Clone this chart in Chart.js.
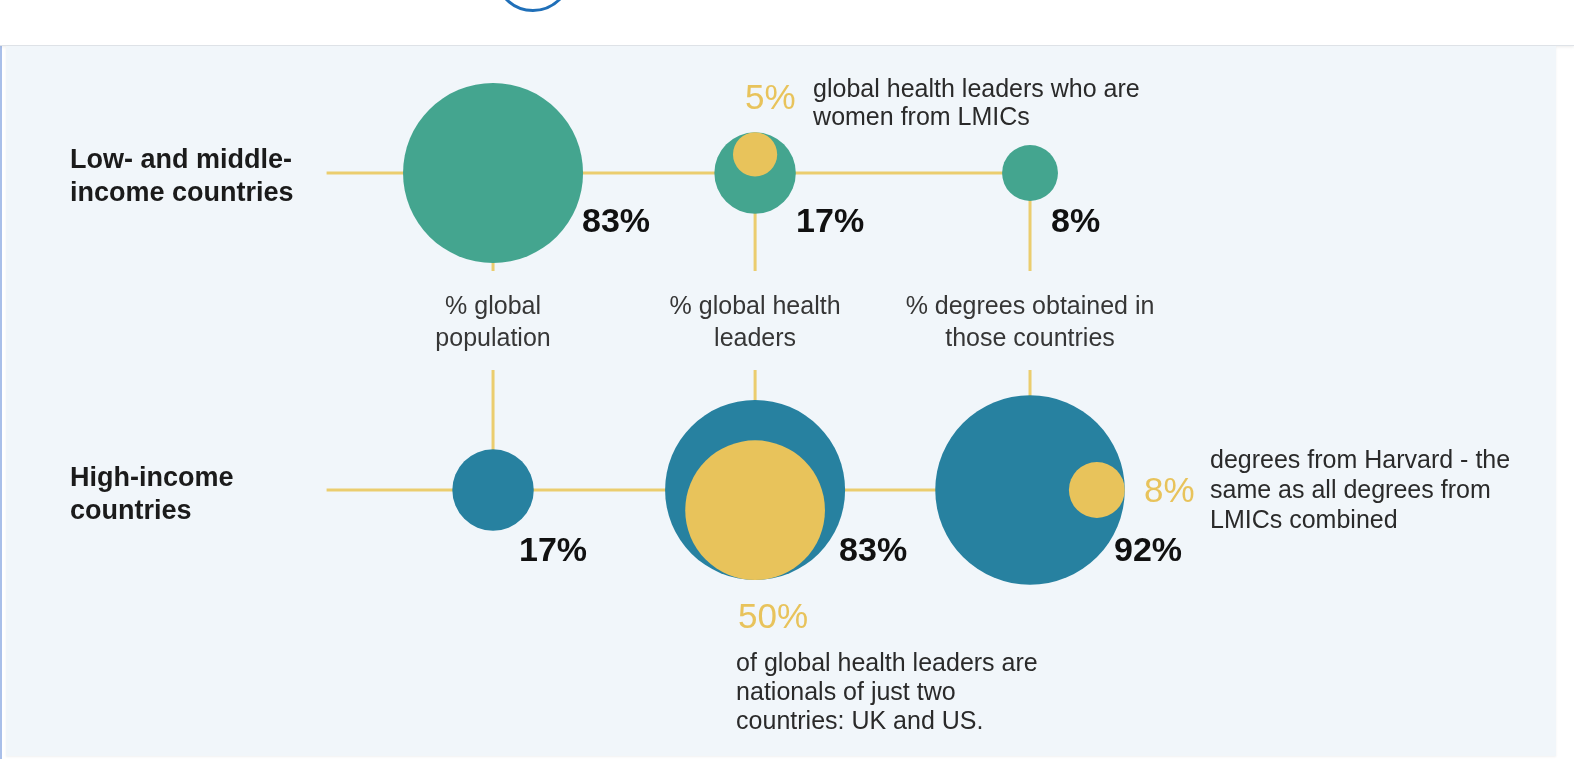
<!DOCTYPE html>
<html>
<head>
<meta charset="utf-8">
<script src="https://cdn.jsdelivr.net/npm/chart.js@4"></script>
<style>
html, body { margin:0; padding:0; background:#fff; width:1574px; height:759px; overflow:hidden; }
#frame { position:absolute; left:0; top:0; width:1572px; height:758px; border-left:2px solid #a9bfe9; border-top:1px solid #e4daf4; }
#header { position:absolute; left:0; top:0; width:1574px; height:45px; background:#fff; border-bottom:1px solid #dfe3e8; box-shadow:0 1px 3px rgba(0,0,0,0.08); overflow:hidden; }
#logo { position:absolute; left:494px; top:-66px; width:72px; height:72px; border:3.5px solid #1f6fb8; border-radius:50%; }
#panel { position:absolute; left:6px; top:46px; width:1550px; height:710px; background:#f1f6fa; box-shadow:0 1px 2px rgba(0,0,0,0.06); }
</style>
</head>
<body>
<div id="frame"></div>
<div id="header"><div id="logo"></div></div>
<div id="panel"><canvas id="chart" width="1550" height="710"></canvas></div>
<script>
// columns (measures) and rows (country groups)
var columns = [["% global", "population"], ["% global health", "leaders"], ["% degrees obtained in", "those countries"]];
var rows = [["Low- and middle-", "income countries"], ["High-income", "countries"]];
var lmicValues = [83, 17, 8];
var hicValues = [17, 83, 92];

// highlighted subsets drawn inside a parent bubble
var highlightValues = [5, 50, 8];
var highlightCol = [1, 1, 2];
var highlightRow = [0, 1, 1];
var highlightNotes = [
  ["global health leaders who are", "women from LMICs"],
  ["of global health leaders are", "nationals of just two", "countries: UK and US."],
  ["degrees from Harvard - the", "same as all degrees from", "LMICs combined"]
];

var teal = "#44a58f", blue = "#2781a0", yellow = "#e8c35b", lineColor = "#ebcd6e";
var font = "'Liberation Sans', Arial, sans-serif";
var radiusPerSqrt = 9.88; // bubble area proportional to the percentage
function rad(v) { return radiusPerSqrt * Math.sqrt(v); }

// layout
var columnPos = [0, 0.976, 2];
var highlightSide = [[0, -1], [0, 1], [1, 0]];
var valueLabelOffset = [[[89, 50], [41, 50], [21, 50]], [[26, 62], [84, 62], [84, 62]]];
var notePctOffset = [[-10, -76], [-17, 126], [114, 0]];
var noteTextOffset = [[58, -85, 28], [-19, 172, 29], [180, -31, 30]];
var lineStartX = -0.62, labelRowY = 0.464;

function bubbles(values, row) {
  return values.map(function(v, i) { return { x: columnPos[i], y: row, r: rad(v) }; });
}

var placeHighlights = {
  id: "placeHighlights",
  afterDatasetsUpdate: function(chart) {
    var meta = chart.getDatasetMeta(0);
    meta.data.forEach(function(el, i) {
      var parent = chart.getDatasetMeta(1 + highlightRow[i]).data[highlightCol[i]];
      var parentVal = highlightRow[i] === 0 ? lmicValues[highlightCol[i]] : hicValues[highlightCol[i]];
      var d = rad(parentVal) - rad(highlightValues[i]);
      el.x = parent.x + highlightSide[i][0] * d;
      el.y = parent.y + highlightSide[i][1] * d;
    });
  }
};

var connectors = {
  id: "connectors",
  beforeDatasetsDraw: function(chart) {
    var ctx = chart.ctx, xs = chart.scales.x, ys = chart.scales.y;
    ctx.save();
    ctx.strokeStyle = lineColor;
    ctx.lineWidth = 3;
    ctx.beginPath();
    rows.forEach(function(r, ri) {
      var y = ys.getPixelForValue(ri);
      ctx.moveTo(xs.getPixelForValue(lineStartX), y);
      ctx.lineTo(xs.getPixelForValue(columnPos[columns.length - 1]), y);
    });
    var mid = ys.getPixelForValue(labelRowY);
    columns.forEach(function(c, ci) {
      var x = xs.getPixelForValue(columnPos[ci]);
      ctx.moveTo(x, ys.getPixelForValue(0));
      ctx.lineTo(x, mid - 49);
      ctx.moveTo(x, mid + 50);
      ctx.lineTo(x, ys.getPixelForValue(1));
    });
    ctx.stroke();
    ctx.restore();
  }
};

var texts = {
  id: "texts",
  afterDatasetsDraw: function(chart) {
    var ctx = chart.ctx, xs = chart.scales.x, ys = chart.scales.y;
    ctx.save();
    ctx.textBaseline = "middle";

    // row titles
    ctx.fillStyle = "#1b1b1b";
    ctx.font = "bold 27px " + font;
    ctx.textAlign = "left";
    rows.forEach(function(lines, ri) {
      var y = ys.getPixelForValue(ri);
      ctx.fillText(lines[0], 64, y - 12 + ri);
      ctx.fillText(lines[1], 64, y + 21 + ri);
    });

    // column titles
    ctx.fillStyle = "#363636";
    ctx.font = "25px " + font;
    ctx.textAlign = "center";
    var mid = ys.getPixelForValue(labelRowY);
    columns.forEach(function(lines, ci) {
      var x = xs.getPixelForValue(columnPos[ci]);
      ctx.fillText(lines[0], x, mid - 13);
      ctx.fillText(lines[1], x, mid + 19);
    });

    // values
    ctx.fillStyle = "#111";
    ctx.font = "bold 34px " + font;
    ctx.textAlign = "left";
    [lmicValues, hicValues].forEach(function(vals, ri) {
      vals.forEach(function(v, ci) {
        var o = valueLabelOffset[ri][ci];
        ctx.fillText(v + "%", xs.getPixelForValue(columnPos[ci]) + o[0], ys.getPixelForValue(ri) + o[1]);
      });
    });

    // highlight notes
    highlightValues.forEach(function(v, i) {
      var x = xs.getPixelForValue(columnPos[highlightCol[i]]), y = ys.getPixelForValue(highlightRow[i]);
      ctx.fillStyle = yellow;
      ctx.font = "35px " + font;
      ctx.fillText(v + "%", x + notePctOffset[i][0], y + notePctOffset[i][1] + 2);
      ctx.fillStyle = "#2a2a2a";
      ctx.font = "25px " + font;
      var t = noteTextOffset[i];
      highlightNotes[i].forEach(function(line, li) {
        ctx.fillText(line, x + t[0], y + t[1] + 2 + li * t[2]);
      });
    });
    ctx.restore();
  }
};

window.chart = new Chart(document.getElementById("chart").getContext("2d"), {
  type: "bubble",
  data: {
    datasets: [
      { label: "Highlight", data: highlightValues.map(function(v, i) { return { x: columnPos[highlightCol[i]], y: highlightRow[i], r: rad(v) }; }), backgroundColor: yellow, borderWidth: 0 },
      { label: "Low- and middle-income countries", data: bubbles(lmicValues, 0), backgroundColor: teal, borderWidth: 0 },
      { label: "High-income countries", data: bubbles(hicValues, 1), backgroundColor: blue, borderWidth: 0 }
    ]
  },
  options: {
    responsive: false,
    animation: false,
    events: [],
    layout: { padding: 0, autoPadding: false },
    plugins: { legend: { display: false }, tooltip: { enabled: false } },
    scales: {
      x: { type: "linear", display: false, min: -1.814, max: 3.959, bounds: "data" },
      y: { type: "linear", display: false, reverse: true, min: -0.4007, max: 1.839, bounds: "data" }
    }
  },
  plugins: [placeHighlights, connectors, texts]
});
</script>
</body>
</html>
